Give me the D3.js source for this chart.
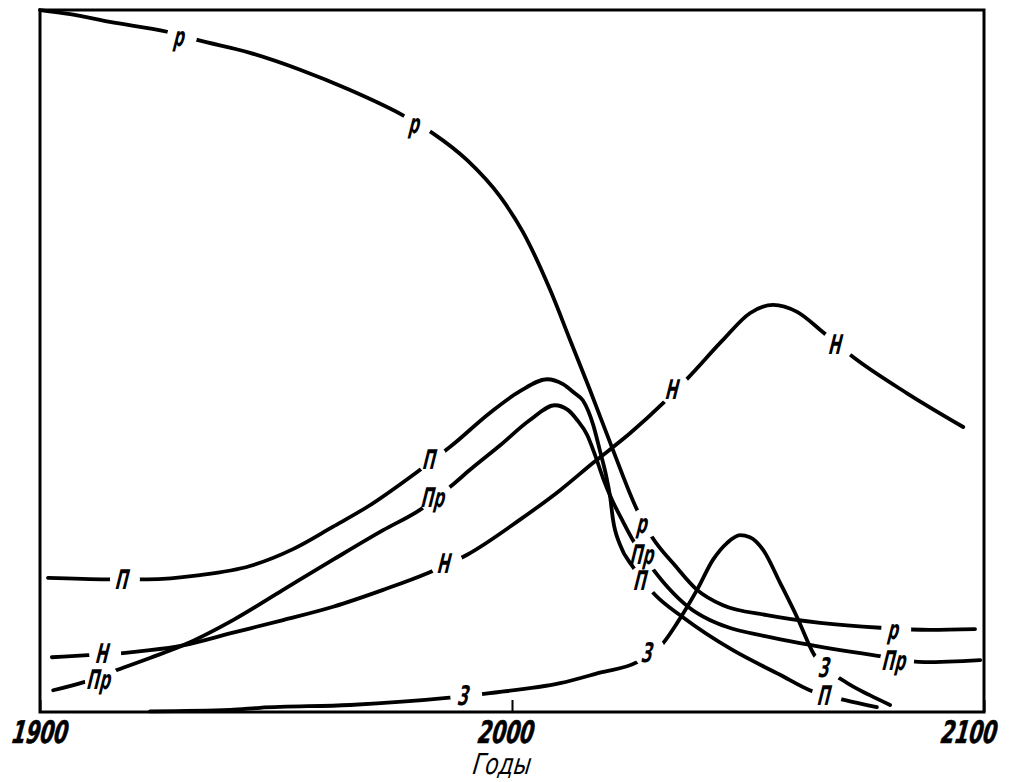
<!DOCTYPE html>
<html><head><meta charset="utf-8">
<script src="https://cdn.jsdelivr.net/npm/d3@7"></script>
<style>body{margin:0;background:#fff}</style>
</head><body>
<svg id="c" width="1011" height="782"></svg>
<script>
// ---- data (years vs. relative level, 0..100 of the plot height) ----
const tickYears = [1900, 2000, 2100];
const tickLabels = ["1900", "2000", "2100"];
const axisTitle = "Годы";

const seriesNames = ["р", "П", "Пр", "Н", "З"];

const resources = [[1900,100.0],[1906.4,99.4],[1914.8,98.3],[1926.9,96.9],[1933.5,95.7],[1944.5,93.9],[1955.1,91.5],[1965.7,88.6],[1976.9,85.0],[1983.1,82.5],[1990.5,78.6],[1997.5,73.4],[2002.3,68.4],[2008.1,60.1],[2012.3,53.0],[2016.5,45.9],[2021.4,37.3],[2026.5,28.8],[2029.7,24.9],[2034.5,20.9],[2039.2,17.4],[2044.7,15.2],[2054.0,13.8],[2065.3,12.7],[2078.0,12.0],[2088.6,11.7],[2098.1,11.8]];
const resourcesLabels = [[1930.1,96.3],[1979.9,83.8],[2028.2,26.9],[2081.4,11.8]];

const food = [[1901.7,19.1],[1914.2,18.9],[1922.7,18.9],[1933.9,19.5],[1944.5,20.8],[1953.6,23.2],[1962.1,26.4],[1969.3,29.2],[1979.9,34.2],[1987.3,38.0],[1995.3,42.6],[2001.7,45.7],[2007.4,47.4],[2010.8,46.7],[2013.3,45.4],[2015.0,44.4],[2017.2,40.9],[2018.6,37.3],[2019.9,33.8],[2020.8,30.6],[2021.4,27.4],[2022.9,23.8],[2025.6,20.7],[2030.3,16.7],[2036.2,13.5],[2046.8,8.8],[2056.8,5.3],[2063.1,3.1],[2070.6,1.7],[2077.3,0.7]];
const foodLabels = [[1918.0,18.9],[1983.1,36.0],[2027.8,18.7],[2066.7,2.4]];

const industry = [[1902.8,3.1],[1909.5,4.3],[1917.6,6.3],[1923.3,7.7],[1930.3,9.5],[1940.9,13.1],[1951.5,17.4],[1962.1,21.7],[1972.7,25.9],[1980.5,28.8],[1987.3,32.3],[1991.1,34.5],[1997.5,38.0],[2003.8,41.6],[2009.1,43.7],[2011.9,43.0],[2013.8,41.6],[2015.9,39.5],[2017.6,36.6],[2019.3,33.3],[2021.2,30.2],[2023.3,27.4],[2025.6,24.5],[2029.7,20.5],[2033.1,17.7],[2037.3,15.0],[2041.9,13.1],[2045.6,12.1],[2053.6,10.8],[2061.0,9.8],[2076.5,8.1],[2087.5,7.1],[2099.2,7.4]];
const industryLabels = [[1913.1,4.6],[1983.9,30.6],[2028.2,22.4],[2081.6,7.4]];

const population = [[1902.5,7.8],[1910.2,8.1],[1917.6,8.4],[1923.3,8.8],[1930.3,9.5],[1940.9,11.3],[1951.5,13.1],[1962.1,15.0],[1972.7,17.4],[1982.2,19.8],[1990.5,22.4],[2001.7,27.4],[2010.2,31.6],[2017.2,35.5],[2025.0,39.7],[2032.0,44.0],[2037.3,47.6],[2044.7,53.0],[2050.4,56.8],[2055.3,58.0],[2060.4,57.0],[2065.9,54.1],[2072.2,50.6],[2083.7,45.4],[2095.6,40.6]];
const populationLabels = [[1913.8,8.3],[1986.2,21.1],[2034.5,45.9],[2069.1,52.4]];

const pollution = [[1923.3,0.1],[1940.3,0.3],[1946.6,0.6],[1965.7,1.0],[1986.2,2.0],[1995.3,2.7],[2010.2,4.1],[2018.6,5.6],[2026.5,7.1],[2032.0,9.8],[2035.0,12.7],[2039.2,17.4],[2042.6,21.7],[2045.6,24.1],[2048.3,25.2],[2050.4,24.9],[2053.2,23.1],[2056.8,18.4],[2060.4,13.5],[2063.8,8.4],[2070.6,4.3],[2075.8,2.4],[2080.1,1.0]];
const pollutionLabels = [[1990.3,2.3],[2029.2,8.5],[2066.7,6.4]];

// ---- build ----
const series = [
  {name: seriesNames[0], pts: resources, labels: resourcesLabels, r: 15},
  {name: seriesNames[1], pts: food, labels: foodLabels, r: 15},
  {name: seriesNames[2], pts: industry, labels: industryLabels, r: 17},
  {name: seriesNames[3], pts: population, labels: populationLabels, r: 16},
  {name: seriesNames[4], pts: pollution, labels: pollutionLabels, r: 16}
];

const FONT = "'DejaVu Sans Condensed','DejaVu Sans',sans-serif";
const svg = d3.select("#c");
const m = {left: 40, right: 984, top: 10, bottom: 712};
const x = d3.scaleLinear().domain([1900, 2100]).range([m.left, m.right]);
const y = d3.scaleLinear().domain([0, 100]).range([m.bottom, m.top]);

const defs = svg.append("defs");
series.forEach((s, i) => {
  const mask = defs.append("mask").attr("id", "mk" + i)
    .attr("maskUnits", "userSpaceOnUse").attr("x", 0).attr("y", 0)
    .attr("width", 1011).attr("height", 782);
  mask.append("rect").attr("width", 1011).attr("height", 782).attr("fill", "#fff");
  mask.selectAll("circle").data(s.labels).join("circle")
    .attr("cx", d => x(d[0])).attr("cy", d => y(d[1])).attr("r", s.r).attr("fill", "#000");
});

const line = d3.line().x(d => x(d[0])).y(d => y(d[1])).curve(d3.curveMonotoneX);

series.forEach((s, i) => {
  svg.append("path").datum(s.pts)
    .attr("d", line).attr("fill", "none").attr("stroke", "#000")
    .attr("stroke-width", 3.8).attr("stroke-linecap", "round").attr("stroke-linejoin", "round")
    .attr("mask", `url(#mk${i})`);
  svg.append("g").selectAll("text").data(s.labels).join("text")
    .attr("transform", d => `translate(${x(d[0]) - 2},${y(d[1])}) skewX(-8) scale(0.62,1)`)
    .attr("text-anchor", "middle").attr("dominant-baseline", "central")
    .attr("font-family", FONT).attr("font-weight", "bold")
    .attr("font-style", "italic").attr("font-size", 27).attr("fill", "#000")
    .text(s.name);
});

// frame
svg.append("rect").attr("x", m.left).attr("y", m.top)
  .attr("width", m.right - m.left).attr("height", m.bottom - m.top)
  .attr("fill", "none").attr("stroke", "#000").attr("stroke-width", 3);

// axis
const axis = d3.axisBottom(x).tickValues(tickYears).tickFormat((d, i) => tickLabels[i])
  .tickSizeInner(-12).tickSizeOuter(0).tickPadding(9);
const gx = svg.append("g").attr("transform", `translate(0,${m.bottom})`).call(axis);
gx.select(".domain").remove();
gx.selectAll("line").attr("stroke", "#000").attr("stroke-width", 2);
gx.selectAll("text")
  .attr("font-family", FONT)
  .attr("font-style", "italic").attr("font-weight", "bold").attr("font-size", 31).attr("fill", "#000")
  .attr("stroke", "#000").attr("stroke-width", 0.6)
  .attr("transform", (d, i) => `translate(${i === 2 ? -12 : (i === 1 ? -3 : 3)},0) skewX(-8) scale(0.72,1)`);

svg.append("text")
  .attr("transform", `translate(${x(2000) - 11},774) skewX(-8) scale(0.84,1)`)
  .attr("text-anchor", "middle")
  .attr("font-family", FONT)
  .attr("font-style", "italic").attr("font-size", 29).attr("fill", "#000")
  .text(axisTitle);
</script>
</body></html>
